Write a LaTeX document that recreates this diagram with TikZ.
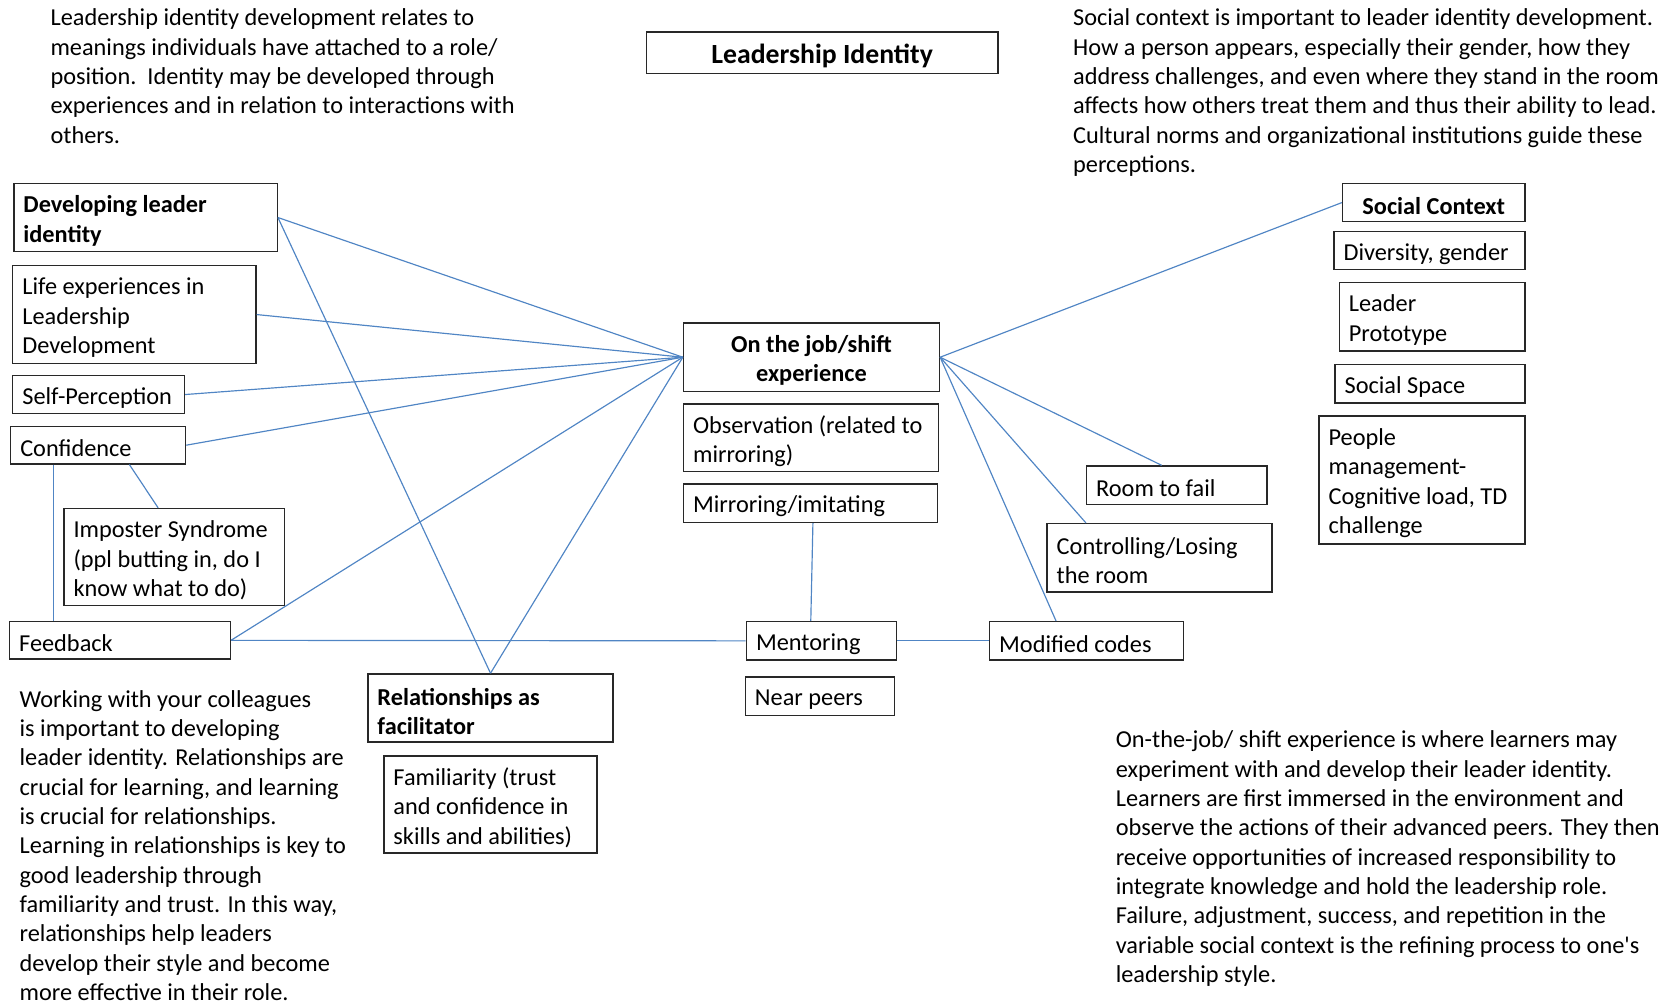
\documentclass[tikz,border=0pt]{standalone}
\usepackage{fontspec}
\setmainfont{Carlito}[Ligatures=TeXOff]
\definecolor{conn}{RGB}{80,133,196}
\definecolor{frame}{RGB}{40,40,40}
\newcommand\fs{\fontsize{11.4pt}{13.75pt}\selectfont}
\newcommand\ft{\fontsize{13pt}{15pt}\selectfont}
\newcommand\bxal{\raggedright}
\newcommand\bx[7][]{%
  \pgfmathsetmacro\bxw{(#5-#3)*0.5}%
  \pgfmathsetmacro\bxh{(#6-#4)*0.5}%
  \pgfmathsetmacro\bxt{(#5-#3)*0.5-9}%
  \node[bx,#1,minimum width=\bxw pt,minimum height=\bxh pt] (#2) at ({(#3+#5)/2},{(#4+#6)/2})
    {\raisebox{-1.5pt}[\height][\depth]{\parbox[t]{\bxt pt}{\bxal #7}}};}
\begin{document}
\begin{tikzpicture}[x=0.5pt,y=-0.5pt,
  bx/.style={draw=frame, line width=0.65pt, inner xsep=4.5pt, inner ysep=0pt, font=\fs},
  cx/.style={execute at begin node={\let\bxal\centering}},
  ln/.style={draw=conn, line width=0.55pt},
  para/.style={inner sep=0pt, anchor=north west, align=left, font=\fs}]
\useasboundingbox (0,0) rectangle (1568,941);

% paragraphs
\node[para] (tl) at (47,8) {Leadership identity development relates to\\meanings individuals have attached to a role/\\position.\ \ Identity may be developed through\\experiences and in relation to interactions with\\others.};
\node[para] (tr) at (1006,8) {Social context is important to leader identity development.\\How a person appears, especially their gender, how they\\address challenges, and even where they stand in the room\\affects how others treat them and thus their ability to lead.\\Cultural norms and organizational institutions guide these\\perceptions.};
\node[para] (bl) at (18,647) {Working with your colleagues\\is important to developing\\leader identity. Relationships are\\crucial for learning, and learning\\is crucial for relationships.\\Learning in relationships is key to\\good leadership through\\familiarity and trust. In this way,\\relationships help leaders\\develop their style and become\\more effective in their role.};
\node[para] (br) at (1046,685) {On-the-job/ shift experience is where learners may\\experiment with and develop their leader identity.\\Learners are first immersed in the environment and\\observe the actions of their advanced peers. They then\\receive opportunities of increased responsibility to\\integrate knowledge and hold the leadership role.\\Failure, adjustment, success, and repetition in the\\variable social context is the refining process to one's\\leadership style.};

% boxes
\bx[cx,font=\ft\bfseries]{title}{606}{30}{936}{69}{\mbox{Leadership Identity}}
\bx[font=\fs\bfseries]{dev}{13}{172}{260}{236}{\mbox{Developing leader}\\identity}
\bx{life}{12}{249}{240}{341}{\mbox{Life experiences in}\\Leadership\\Development}
\bx{self}{12}{352}{173}{388}{Self-Perception}
\bx{conf}{10}{400}{174}{435}{Confidence}
\bx{imp}{60}{477}{267}{568}{\mbox{Imposter Syndrome}\\\mbox{(ppl butting in, do I}\\\mbox{know what to do)}}
\bx{feed}{9}{583}{216}{618}{Feedback}
\bx[font=\fs\bfseries]{rel}{345}{632}{575}{696}{\mbox{Relationships as}\\facilitator}
\bx{fam}{360}{709}{560}{800}{\mbox{Familiarity (trust}\\\mbox{and confidence in}\\\mbox{skills and abilities)}}
\bx[cx,font=\fs\bfseries]{job}{641}{303}{881}{367}{\mbox{On the job/shift}\\experience}
\bx{obs}{641}{379}{880}{442}{\mbox{Observation (related to}\\mirroring)}
\bx{mir}{641}{454}{879}{490}{Mirroring/imitating}
\bx{ment}{700}{583}{841}{619}{Mentoring}
\bx{near}{699}{635}{839}{671}{\mbox{Near peers}}
\bx{mod}{928}{583}{1110}{619}{\mbox{Modified codes}}
\bx{room}{1019}{437}{1188}{473}{\mbox{Room to fail}}
\bx{ctrl}{982}{491}{1193}{555}{Controlling/Losing\\\mbox{the room}}
\bx[cx,font=\fs\bfseries]{sc}{1259}{172}{1430}{208}{\mbox{Social Context}}
\bx{div}{1251}{217}{1430}{253}{\mbox{Diversity, gender}}
\bx{proto}{1256}{265}{1430}{329}{Leader\\Prototype}
\bx{space}{1252}{342}{1430}{378}{\mbox{Social Space}}
\bx{people}{1237}{390}{1430}{510}{People\\management-\\\mbox{Cognitive load, TD}\\challenge}

% connectors
\draw[ln] (dev.east) -- (job.west);
\draw[ln] (dev.east) -- (rel.north);
\draw[ln] (life.east) -- (job.west);
\draw[ln] (self.east) -- (job.west);
\draw[ln] (conf.east) -- (job.west);
\draw[ln] (feed.east) -- (job.west);
\draw[ln] (rel.north) -- (job.west);
\draw[ln] ([xshift=20.5pt]conf.south west) -- ([xshift=21pt]feed.north west);
\draw[ln] ([xshift=56pt]conf.south west) -- ([xshift=44.5pt]imp.north west);
\draw[ln] (feed.east) -- (ment.west);
\draw[ln] ([xshift=61pt]mir.south west) -- ([xshift=30.5pt]ment.north west);
\draw[ln] (ment.east) -- (mod.west);
\draw[ln] (job.east) -- (sc.west);
\draw[ln] (job.east) -- ([xshift=35.5pt]room.north west);
\draw[ln] (job.east) -- ([xshift=18.5pt]ctrl.north west);
\draw[ln] (job.east) -- ([xshift=31.5pt]mod.north west);
\end{tikzpicture}
\end{document}
